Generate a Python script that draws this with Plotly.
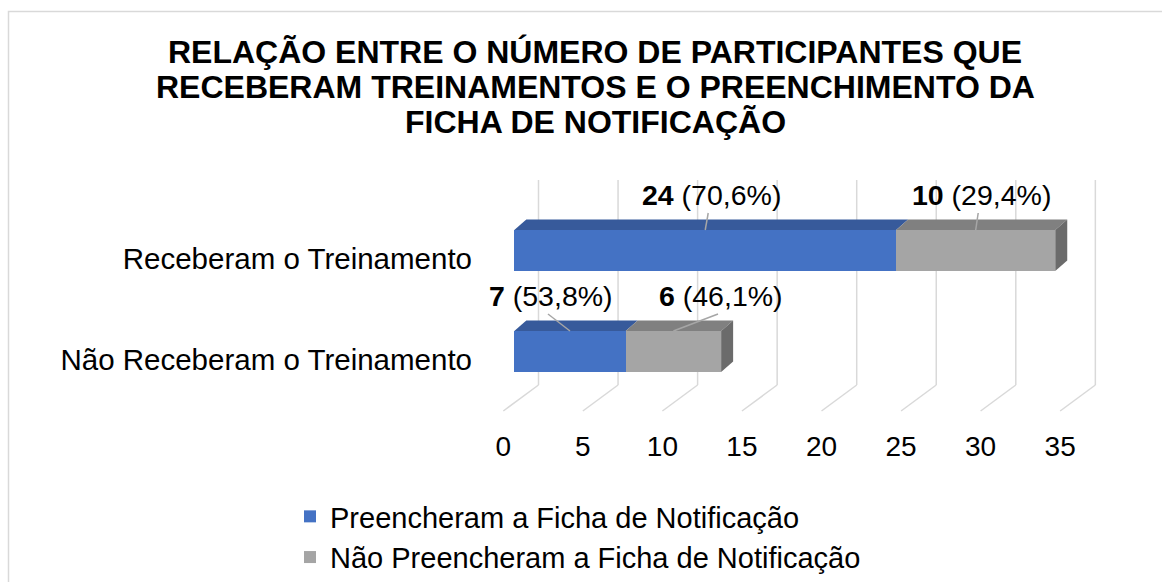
import plotly.graph_objects as go

# ---------------- data ----------------
CATEGORIES = ["Receberam o Treinamento", "Não Receberam o Treinamento"]
SERIES_NAMES = ["Preencheram a Ficha de Notificação",
                "Não Preencheram a Ficha de Notificação"]
FILLED = [24, 7]
NOT_FILLED = [10, 6]
FILLED_PCT = ["70,6%", "53,8%"]
NOT_FILLED_PCT = ["29,4%", "46,1%"]
TICK_VALUES = [0, 5, 10, 15, 20, 25, 30, 35]
TITLE_LINES = ["RELAÇÃO ENTRE O NÚMERO DE PARTICIPANTES QUE",
               "RECEBERAM TREINAMENTOS E O PREENCHIMENTO DA",
               "FICHA DE NOTIFICAÇÃO"]

# ---------------- layout constants (pixels) ----------------
W, H = 1162, 582
L, R, T, B = 490, 1120, 170, 427
XS = 15.91      # px per value unit
X0 = 514.3      # px of value 0 on the bar front plane
YS = 101.0      # px per category step
Y0 = 259.0      # px of first category

BAR_TOP_OFF = -29.0   # px from category centre to bar front top
BAR_H = 41.0          # px bar front height
DX, DY = 12.0, -10.5  # depth offset of bar top/side faces (px)
WALL_DX = 24.2        # back wall gridline offset (px)
FLOOR_DX = -11        # front floor line end offset (px)
GRID_TOP, GRID_BOT, FLOOR_Y = 180, 385, 411
LABEL_DX = [[6, 5.5], [-19, 47.6]]
LABEL_DY = -35

FONT = "Liberation Sans, Arial, sans-serif"
BLUE, BLUE_TOP = "#4472C4", "#375A9B"
GRAY, GRAY_TOP, GRAY_SIDE = "#A5A5A5", "#808080", "#6B6B6B"
GRID = "#D9D9D9"


def ux(p):  # px offset -> x units
    return p / XS


def uy(p):  # px offset -> y units
    return p / YS


def paper_x(p):
    return (p - L) / (R - L)


def paper_y(p):
    return (B - p) / (B - T)


ypos = list(range(len(CATEGORIES)))

fig = go.Figure()
fig.add_trace(go.Bar(y=ypos, x=FILLED, orientation="h", name=SERIES_NAMES[0],
                     marker=dict(color=BLUE, line=dict(width=0)),
                     width=uy(BAR_H), offset=uy(BAR_TOP_OFF), hoverinfo="x"))
fig.add_trace(go.Bar(y=ypos, x=NOT_FILLED, orientation="h", name=SERIES_NAMES[1],
                     marker=dict(color=GRAY, line=dict(width=0)),
                     width=uy(BAR_H), offset=uy(BAR_TOP_OFF), hoverinfo="x"))

shapes = []
# gridlines: back wall verticals + floor diagonals
for v in TICK_VALUES:
    xb = v + ux(WALL_DX)
    shapes.append(dict(type="line", xref="x", yref="y", layer="below",
                       x0=xb, x1=xb, y0=uy(GRID_TOP - Y0), y1=uy(GRID_BOT - Y0),
                       line=dict(color=GRID, width=1.5)))
    shapes.append(dict(type="line", xref="x", yref="y", layer="below",
                       x0=xb, y0=uy(GRID_BOT - Y0), x1=v + ux(FLOOR_DX), y1=uy(FLOOR_Y - Y0),
                       line=dict(color=GRID, width=1.5)))

annotations = []
dxu, dyu = ux(DX), uy(DY)
for i, yc in enumerate(ypos):
    yt = yc + uy(BAR_TOP_OFF)
    yb = yt + uy(BAR_H)
    segs = [(0, FILLED[i], BLUE_TOP, FILLED[i], FILLED_PCT[i]),
            (FILLED[i], FILLED[i] + NOT_FILLED[i], GRAY_TOP, NOT_FILLED[i], NOT_FILLED_PCT[i])]
    for s, (a, b, col, val, pct) in enumerate(segs):
        shapes.append(dict(type="path", xref="x", yref="y", fillcolor=col,
                           line=dict(width=0),
                           path=f"M {a},{yt} L {b},{yt} L {b+dxu},{yt+dyu} L {a+dxu},{yt+dyu} Z"))
        # label
        cx = (a + b) / 2
        lx = cx + ux(LABEL_DX[i][s])
        ly = yt + uy(LABEL_DY)
        annotations.append(dict(xref="x", yref="y", x=lx, y=ly, showarrow=False,
                                text=f"<b>{val}</b> ({pct})",
                                font=dict(size=28.5, color="#000000", family=FONT),
                                xanchor="center", yanchor="middle"))
        shapes.append(dict(type="line", xref="x", yref="y",
                           x0=cx, y0=yt, x1=lx - ux(3), y1=ly + uy(18),
                           line=dict(color="#A6A6A6", width=1.5)))
    end = FILLED[i] + NOT_FILLED[i]
    shapes.append(dict(type="path", xref="x", yref="y", fillcolor=GRAY_SIDE,
                       line=dict(width=0),
                       path=f"M {end},{yt} L {end+dxu},{yt+dyu} L {end+dxu},{yb+dyu} L {end},{yb} Z"))

# chart border
shapes.append(dict(type="rect", xref="paper", yref="paper", layer="below",
                   x0=paper_x(8.5), y0=paper_y(11.5), x1=paper_x(1180), y1=paper_y(600),
                   line=dict(color="#D9D9D9", width=1.5), fillcolor="rgba(0,0,0,0)"))

# title lines
for k, (line, py) in enumerate(zip(TITLE_LINES, [52, 87, 122])):
    annotations.append(dict(xref="paper", yref="paper", x=paper_x(595), y=paper_y(py),
                            text=f"<b>{line}</b>", showarrow=False,
                            xanchor="center", yanchor="middle",
                            font=dict(size=32, color="#000000", family=FONT)))

fig.update_layout(
    width=W, height=H,
    margin=dict(l=L, r=W - R, t=T, b=H - B, autoexpand=False),
    paper_bgcolor="white", plot_bgcolor="white",
    font=dict(family=FONT, color="#000000"),
    barmode="stack", bargap=0,
    showlegend=True,
    legend=dict(orientation="v", x=paper_x(290), y=paper_y(491),
                xanchor="left", yanchor="top", traceorder="normal",
                font=dict(size=29, color="#000000", family=FONT),
                bgcolor="rgba(0,0,0,0)"),
    xaxis=dict(range=[ux(L - X0), ux(R - X0)], tickvals=TICK_VALUES,
               ticktext=[str(v) for v in TICK_VALUES],
               showgrid=False, zeroline=False, showline=False, ticks="",
               ticklabelshift=FLOOR_DX, ticklabelstandoff=0,
               tickfont=dict(size=28, color="#000000", family=FONT), fixedrange=True),
    yaxis=dict(range=[uy(B - Y0), uy(T - Y0)], tickvals=ypos, ticktext=CATEGORIES,
               showgrid=False, zeroline=False, showline=False, ticks="",
               ticklabelstandoff=17,
               tickfont=dict(size=29.5, color="#000000", family=FONT), fixedrange=True),
    shapes=shapes, annotations=annotations,
)

fig.write_html("out.html", config={"displayModeBar": False},
               post_script="document.body.style.margin='0';document.body.style.overflow='hidden';")
